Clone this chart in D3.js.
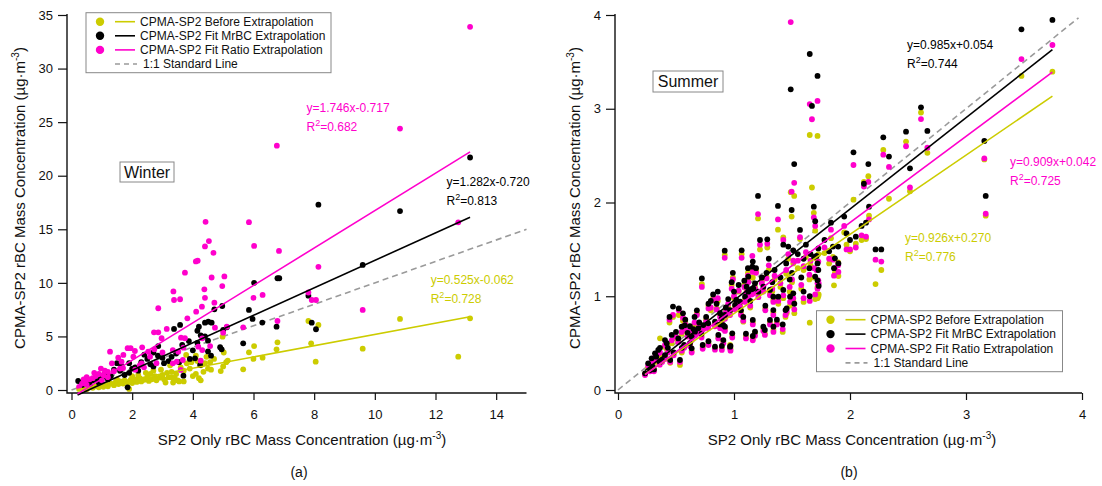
<!DOCTYPE html>
<html>
<head>
<meta charset="utf-8">
<script src="https://cdn.jsdelivr.net/npm/d3@7"></script>
<style>
  body { margin: 0; background: #fff; }
  svg { display: block; }
  text { font-family: "Liberation Sans", Arial, sans-serif; }
</style>
</head>
<body>
<svg id="chart" width="1102" height="486"></svg>
<script>
// ---------- Winter: [SP2-only rBC, CPMA-SP2 rBC] pairs (µg·m-3) ----------
const winterBefore = [
  [0.25,0.1],[0.35,0.15],[0.45,0.2],[0.5,0.08],[0.6,0.3],[0.7,0.2],[0.8,0.35],[0.9,0.25],[1.0,0.45],
  [1.05,0.3],[1.15,0.5],[1.2,0.35],[1.3,0.6],[1.4,0.45],[1.45,0.7],[1.5,1.0],[1.55,0.55],[1.6,0.8],
  [1.7,0.6],[1.75,0.9],[1.85,0.7],[1.9,0.1],[1.95,0.95],[2.0,0.65],[2.0,1.3],[2.1,1.0],[2.15,0.75],
  [2.25,1.1],[2.3,0.8],[2.4,0.95],[2.5,1.2],[2.55,0.85],[2.6,1.5],[2.65,1.0],[2.75,1.3],[2.8,0.9],
  [2.9,1.15],[3.0,1.4],[3.05,1.0],[3.1,0.7],[3.15,1.6],[3.2,1.2],[3.3,1.7],[3.3,1.2],[3.4,1.1],
  [3.5,0.9],[3.55,0.8],[3.6,2.1],[3.7,1.8],[3.7,0.8],[3.78,3.27],[3.8,2.49],[4.1,3.2],[4.15,2.7],
  [4.1,1.5],[4.2,1.1],[4.26,0.9],[4.27,2.3],[4.35,1.7],[4.5,2.0],[4.57,2.6],[4.92,1.77],[4.98,4.98],
  [5.02,3.5],[5.1,2.6],[5.15,2.75],[5.66,1.93],[5.85,3.52],[6.0,2.9],[6.02,4.1],[6.3,3.02],[6.76,3.8],
  [6.79,4.45],[7.81,6.44],[7.9,4.36],[8.05,2.64],[8.14,6.07],[9.6,3.86],[10.83,6.63],[12.75,3.11],[13.14,6.69],
  [2.2,1.4],[2.45,1.6],[2.7,1.8],[2.95,1.9],[3.25,2.3],[3.45,1.5],[3.9,2.0],[4.0,1.3],[4.4,2.5],
  [4.6,1.9],[4.7,2.9],[5.0,2.2],[3.35,0.7],[3.95,2.6],[4.45,3.1]
];
const winterMrBC = [
  [0.22,0.84],[0.35,0.4],[0.45,0.7],[0.55,0.6],[0.6,0.5],[0.7,0.9],[0.85,1.0],[0.9,0.7],[1.0,1.1],
  [1.1,1.5],[1.2,1.0],[1.3,1.3],[1.4,1.9],[1.5,2.5],[1.6,1.8],[1.65,2.2],[1.75,1.4],[1.85,0.25],
  [1.9,1.6],[1.9,2.5],[2.0,2.0],[2.1,2.1],[2.2,1.8],[2.3,2.6],[2.4,3.3],[2.5,2.9],[2.6,2.4],[2.7,3.5],
  [2.7,2.2],[2.85,3.2],[2.86,4.1],[3.0,3.0],[3.05,2.5],[3.2,2.7],[3.3,3.1],[3.38,5.7],[3.45,3.4],
  [3.55,2.6],[3.58,6.07],[3.65,4.2],[3.69,1.34],[3.87,4.57],[3.9,2.9],[4.0,3.7],[4.07,2.96],[4.15,5.53],
  [4.15,4.4],[4.2,5.91],[4.24,2.33],[4.26,5.1],[4.35,4.95],[4.4,6.28],[4.4,5.0],[4.5,4.6],[4.5,3.6],
  [4.51,6.38],[4.6,3.2],[4.62,6.28],[4.71,7.53],[4.9,3.99],[4.95,3.8],[4.97,7.84],[5.0,5.6],[5.12,5.85],
  [5.66,4.36],[5.85,7.47],[5.97,6.63],[6.02,10.0],[6.29,6.29],[6.76,5.91],[6.79,10.43],[6.85,10.43],
  [7.81,8.8],[7.92,6.28],[8.06,5.67],[8.14,17.3],[9.6,11.67],[10.83,16.7],[13.14,21.7]
];
const winterRatio = [
  [0.25,0.3],[0.35,0.6],[0.4,1.0],[0.45,0.8],[0.5,0.5],[0.5,1.2],[0.6,1.0],[0.7,1.1],[0.75,1.6],
  [0.8,1.3],[0.9,1.5],[0.97,2.0],[1.0,0.9],[1.05,1.4],[1.1,1.8],[1.2,1.7],[1.2,1.2],[1.27,3.58],
  [1.33,2.49],[1.4,1.75],[1.54,3.02],[1.6,2.0],[1.65,2.64],[1.7,2.05],[1.71,3.27],[1.85,3.9],[1.95,3.9],
  [2.04,3.11],[2.09,3.64],[2.1,1.9],[2.25,2.3],[2.31,2.49],[2.33,3.98],[2.39,2.12],[2.53,3.58],[2.59,3.11],
  [2.72,5.38],[2.73,3.8],[2.8,2.5],[2.86,5.38],[2.86,7.63],[2.97,4.83],[3.0,3.5],[3.14,5.7],[3.34,3.73],
  [3.34,2.49],[3.36,9.2],[3.38,8.4],[3.47,2.64],[3.52,3.58],[3.58,8.47],[3.6,1.87],[3.61,4.88],[3.67,2.8],
  [3.69,3.95],[3.74,4.83],[3.74,10.95],[3.82,6.69],[4.11,7.31],[4.1,12.0],[4.16,12.07],[4.18,4.04],
  [4.26,2.74],[4.3,7.78],[4.31,4.82],[4.31,3.73],[4.38,9.4],[4.4,8.6],[4.4,13.4],[4.42,15.7],[4.53,13.9],
  [4.57,4.1],[4.62,10.5],[4.68,12.8],[4.71,8.15],[4.73,5.82],[4.97,9.7],[5.0,5.35],[5.04,10.6],[5.12,5.91],
  [5.66,5.85],[5.85,15.66],[6.0,8.6],[6.02,13.45],[6.3,8.87],[6.77,22.8],[6.79,6.44],[6.84,12.98],
  [7.81,9.1],[7.92,8.4],[8.06,8.4],[8.14,11.5],[9.6,7.47],[10.83,24.4],[12.75,15.65],[13.14,33.9]
];

// ---------- Summer: one entry per sample ----------
const summerX = [
  3.745,3.478,3.158,3.17,2.612,2.667,2.483,2.287,2.03,2.158,2.12,2.336,2.517,2.164,2.138,1.97,2.05,2.22,2.27,
  1.489,1.519,1.497,1.653,1.672,1.72,1.207,1.379,1.688,1.70,1.836,1.853,1.898,1.727,1.711,1.727,1.72,1.73,
  1.653,1.862,1.9,1.87,1.569,1.425,1.287,1.224,1.066,0.92,1.158,1.162,1.468,1.511,1.69,1.72,1.70,0.723,
  0.474,0.524,0.444,0.362,0.233,0.26,0.29,0.33,0.38,0.405,0.43,0.463,0.405,0.347,0.319,0.276,0.534,0.549,
  0.635,0.73,0.78,0.836,0.908,0.966,0.865,0.922,1.181,1.08,0.635,0.664,0.692,0.735,0.778,0.836,0.894,0.922,
  0.966,1.009,1.052,1.095,1.123,1.166,1.089,1.123,1.109,1.152,1.181,1.21,1.253,1.31,1.339,1.382,1.425,1.483,
  1.511,1.339,1.454,1.31,1.253,0.908,1.34,1.266,1.444,1.162,1.103,0.985,0.97,0.895,1.162,0.575,0.60,0.65,
  0.56,1.0,1.04,0.85,0.95,1.02,0.88,0.76,0.70,0.62,0.52,0.57,0.48,0.36,0.30,1.24,1.28,1.35,1.40,1.45,1.50,
  1.55,1.60,1.62,1.58,1.65,1.78,1.82,1.95,2.00,2.10,1.30,1.12,0.98,0.82,0.78,0.68,0.58,
  0.42,0.50,0.55,0.66,0.72,0.80,0.86,0.93,0.99,1.06,1.14,1.19,1.27,1.33,1.37,1.42,1.48,1.52,1.60,1.66,
  0.31,0.45,0.62,0.88
];
const summerMrBC = [
  3.947,3.847,2.656,2.07,3.015,2.763,2.755,2.695,2.535,2.41,2.20,2.49,2.365,1.955,1.785,1.67,1.635,1.50,1.50,
  3.207,2.41,1.92,3.584,3.03,3.35,2.07,1.963,1.955,1.80,1.785,1.53,1.53,1.51,1.43,1.28,1.17,1.11,
  1.0,1.3,1.35,1.405,1.707,1.55,1.607,1.60,1.49,1.486,1.315,1.37,1.53,1.49,1.42,1.35,1.21,1.19,
  0.89,0.87,0.78,0.45,0.178,0.285,0.338,0.355,0.32,0.373,0.45,0.587,0.533,0.427,0.391,0.213,0.32,0.675,
  0.445,0.48,0.52,0.462,0.533,0.462,0.587,0.675,0.622,0.78,0.569,0.622,0.658,0.693,0.711,0.729,0.765,0.80,
  0.853,0.907,0.942,0.995,1.049,1.084,1.166,1.209,1.102,1.074,1.138,1.049,1.102,1.067,0.995,0.995,1.067,0.995,
  1.031,0.853,0.87,0.747,0.675,0.693,0.675,0.64,0.853,0.576,0.60,0.605,0.47,0.47,0.747,0.69,0.61,0.65,
  0.818,1.05,1.12,0.92,0.97,0.96,0.82,0.78,0.72,0.68,0.55,0.48,0.40,0.30,0.25,1.20,1.25,1.28,1.20,1.35,1.25,
  1.45,1.40,1.55,1.20,1.30,1.60,1.48,1.85,1.60,1.75,1.40,1.30,1.15,1.02,0.92,0.85,0.75,
  0.50,0.62,0.45,0.78,0.60,0.95,1.05,0.88,1.25,0.85,0.95,1.30,0.90,1.15,0.75,0.70,1.18,0.92,1.05,1.45,
  0.22,0.32,0.50,0.70
];
const summerRatio = [
  3.68,3.53,2.47,1.88,2.89,2.585,2.60,2.51,2.40,2.22,2.17,2.38,2.16,1.82,1.635,1.50,1.52,1.39,1.37,
  3.925,2.21,2.115,3.05,2.888,3.083,1.877,1.82,1.84,1.75,1.71,1.39,1.33,1.37,1.28,1.17,1.08,1.14,
  0.95,1.22,1.26,1.30,1.63,1.60,1.56,1.55,1.41,1.41,1.43,1.26,1.45,1.38,1.30,1.14,1.02,1.10,
  0.80,0.85,0.75,0.40,0.16,0.26,0.30,0.32,0.30,0.33,0.40,0.53,0.48,0.39,0.35,0.20,0.30,0.62,
  0.40,0.44,0.48,0.43,0.50,0.445,0.55,0.63,0.58,0.74,0.53,0.58,0.61,0.65,0.66,0.68,0.72,0.76,
  0.80,0.86,0.89,0.94,0.99,1.03,1.10,1.15,1.04,1.02,1.08,0.99,1.05,1.01,0.94,0.95,1.01,0.94,
  0.98,0.80,0.84,0.70,0.63,0.65,0.62,0.587,0.80,0.53,0.55,0.56,0.42,0.427,0.70,0.65,0.57,0.60,
  0.77,1.0,1.06,0.86,0.92,0.91,0.78,0.73,0.68,0.64,0.51,0.45,0.37,0.27,0.23,1.14,1.19,1.22,1.14,1.28,1.18,
  1.38,1.32,1.47,1.12,1.23,1.52,1.40,1.75,1.50,1.65,1.33,1.22,1.08,0.96,0.87,0.80,0.70,
  0.46,0.57,0.42,0.72,0.56,0.88,0.98,0.83,1.18,0.80,0.90,1.25,0.85,1.08,0.70,0.65,1.10,0.86,0.98,1.38,
  0.20,0.30,0.47,0.66
];
const summerBefore = [
  3.395,3.35,2.46,1.86,2.96,2.53,2.65,2.56,2.03,2.28,2.22,2.04,2.12,1.86,1.61,1.55,1.56,1.13,1.28,
  2.11,2.07,1.85,2.72,2.16,2.71,1.83,1.71,1.89,1.70,1.62,1.42,1.36,1.45,1.40,1.0,0.98,1.02,
  0.718,1.117,1.216,1.25,1.61,1.628,1.52,1.50,1.45,1.44,1.30,1.20,1.40,1.35,1.20,1.10,0.97,1.13,
  0.78,0.80,0.72,0.551,0.17,0.24,0.29,0.30,0.35,0.36,0.42,0.50,0.46,0.36,0.33,0.25,0.267,0.60,
  0.42,0.46,0.50,0.45,0.52,0.48,0.56,0.65,0.61,0.729,0.55,0.60,0.63,0.67,0.69,0.70,0.74,0.78,
  0.83,0.88,0.91,0.96,1.01,1.05,1.12,1.17,1.06,1.04,1.10,1.02,1.07,1.03,0.96,0.92,0.98,0.90,
  0.95,0.83,0.818,0.72,0.66,0.67,0.64,0.60,0.78,0.55,0.57,0.58,0.44,0.45,0.72,0.63,0.58,0.62,
  0.74,0.98,1.05,0.87,0.90,0.93,0.80,0.75,0.70,0.62,0.52,0.47,0.39,0.29,0.24,1.16,1.21,1.18,1.10,1.24,1.15,
  1.30,1.28,1.42,1.08,1.18,1.46,1.35,1.68,1.48,1.60,1.28,1.25,1.12,0.98,0.90,0.82,0.72,
  0.44,0.55,0.40,0.70,0.58,0.85,0.95,0.85,1.20,0.82,0.88,1.27,0.87,1.05,0.72,0.62,1.05,0.82,0.94,1.33,
  0.21,0.29,0.48,0.68
];

// Regression lines as plotted: [slope, intercept]
const winterLineCoef = [[0.525,-0.062],[1.282,-0.720],[1.746,-0.717]];
const winterLineSpan = [0.2, 13.14];
const summerLineCoef = [[0.845,-0.03],[0.975,-0.02],[0.919,-0.052]];
const summerLineSpan = [0.233, 3.745];

// Annotation texts
const winterEqLabels = ["y=0.525x-0.062","y=1.282x-0.720","y=1.746x-0.717"];
const winterR2Labels = ["0.728","0.813","0.682"];
const summerEqLabels = ["y=0.926x+0.270","y=0.985x+0.054","y=0.909x+0.042"];
const summerR2Labels = ["0.776","0.744","0.725"];

const legendLabels = ["CPMA-SP2 Before Extrapolation","CPMA-SP2 Fit MrBC Extrapolation",
                      "CPMA-SP2 Fit Ratio Extrapolation","1:1 Standard Line"];
const winterXTicks = [0,2,4,6,8,10,12,14];
const winterYTicks = [0,5,10,15,20,25,30,35];
const summerTicks = [0,1,2,3,4];

// series order: Before, MrBC, Ratio
const colors = ["#cccc00","#000000","#ff00cc"];
const dashColor = "#9a9a9a";

const svg = d3.select("#chart");

function addUnitTitle(sel) {
  sel.append("tspan").text("(µg·m");
  sel.append("tspan").attr("font-size", 10).attr("dy", -6).text("-3");
  sel.append("tspan").attr("dy", 6).text(")");
}

function addR2(sel, val) {
  sel.append("tspan").text("R");
  sel.append("tspan").attr("font-size", 9).attr("dy", -5).text("2");
  sel.append("tspan").attr("dy", 5).text("=" + val);
}

function drawPanel(p) {
  const g = svg.append("g");
  const x = d3.scaleLinear().domain(p.xDomain).range(p.xRange);
  const y = d3.scaleLinear().domain(p.yDomain).range(p.yRange);

  // axes
  const ya = g.append("g").attr("transform", `translate(${p.yAxisX},0)`)
    .call(d3.axisLeft(y).tickValues(p.yTicks).tickSize(9).tickPadding(5).tickFormat(d3.format("d")));
  const xa = g.append("g").attr("transform", `translate(0,${p.xAxisY})`)
    .call(d3.axisBottom(x).tickValues(p.xTicks).tickSize(7).tickPadding(10).tickFormat(d3.format("d")));
  [ya, xa].forEach(a => {
    a.select(".domain").remove();
    a.selectAll(".tick line").attr("stroke", "#111").attr("stroke-width", 1.2);
    a.selectAll(".tick text").attr("font-size", 13).attr("fill", "#111")
      .attr("font-family", '"Liberation Sans", Arial, sans-serif');
  });
  g.append("path")
    .attr("d", `M${p.yAxisX},${p.yRange[1] - 1}V${p.xAxisY}H${p.xRange[1]}`)
    .attr("fill", "none").attr("stroke", "#111").attr("stroke-width", 1.4);

  // axis titles
  const xt = g.append("text").attr("x", p.xTitleX).attr("y", 444.5)
    .attr("text-anchor", "middle").attr("font-size", 15).attr("fill", "#111");
  xt.append("tspan").text("SP2 Only rBC Mass Concentration ");
  addUnitTitle(xt);
  const yt = g.append("text")
    .attr("transform", `translate(${p.yTitleX},198) rotate(-90)`)
    .attr("text-anchor", "middle").attr("font-size", 15).attr("fill", "#111");
  yt.append("tspan").text("CPMA-SP2 rBC Mass Concentration ");
  addUnitTitle(yt);
  g.append("text").attr("x", p.panelTagX).attr("y", 477).attr("text-anchor", "middle")
    .attr("font-size", 14).attr("fill", "#111").text(p.panelTag);

  // 1:1 line
  g.append("line")
    .attr("x1", x(0)).attr("y1", y(0)).attr("x2", x(p.oneToOneEnd)).attr("y2", y(p.oneToOneEnd))
    .attr("stroke", dashColor).attr("stroke-width", 1.6).attr("stroke-dasharray", "6,4");

  // points
  p.drawOrder.forEach(i => {
    g.append("g").selectAll("circle").data(p.series[i]).join("circle")
      .attr("cx", d => x(d[0])).attr("cy", d => y(d[1])).attr("r", 2.9)
      .attr("fill", colors[i]);
  });

  // fit lines
  p.lineCoef.forEach((c, i) => {
    g.append("line")
      .attr("x1", x(p.lineSpan[0])).attr("y1", y(c[0] * p.lineSpan[0] + c[1]))
      .attr("x2", x(p.lineSpan[1])).attr("y2", y(c[0] * p.lineSpan[1] + c[1]))
      .attr("stroke", colors[i]).attr("stroke-width", 1.6);
  });

  // equation labels
  p.eqPos.forEach((pos, i) => {
    g.append("text").attr("x", pos[0]).attr("y", pos[1]).attr("font-size", 12)
      .attr("fill", colors[i]).text(p.eqLabels[i]);
    addR2(g.append("text").attr("x", pos[0]).attr("y", pos[1] + 19).attr("font-size", 12)
      .attr("fill", colors[i]), p.r2Labels[i]);
  });

  // season tag
  const tb = p.tagBox;
  g.append("rect").attr("x", tb[0]).attr("y", tb[1]).attr("width", tb[2]).attr("height", tb[3])
    .attr("fill", "#fff").attr("stroke", "#888").attr("stroke-width", 1);
  g.append("text").attr("x", tb[0] + tb[2] / 2).attr("y", tb[1] + tb[3] / 2 + 5.5)
    .attr("text-anchor", "middle").attr("font-size", 16).attr("fill", "#111").text(p.tag);

  // legend
  const lg = p.legendBox;
  const L = g.append("g");
  L.append("rect").attr("x", lg[0]).attr("y", lg[1]).attr("width", lg[2]).attr("height", lg[3])
    .attr("fill", "#fff").attr("stroke", "#888").attr("stroke-width", 1);
  legendLabels.forEach((lab, i) => {
    const cy = lg[1] + 9 + i * p.legendStep;
    if (i < 3) {
      L.append("circle").attr("cx", lg[0] + 14).attr("cy", cy).attr("r", 4.2).attr("fill", colors[i]);
      L.append("line").attr("x1", lg[0] + 29).attr("x2", lg[0] + 49).attr("y1", cy).attr("y2", cy)
        .attr("stroke", colors[i]).attr("stroke-width", 1.6);
    } else {
      L.append("line").attr("x1", lg[0] + 29).attr("x2", lg[0] + 51).attr("y1", cy).attr("y2", cy)
        .attr("stroke", dashColor).attr("stroke-width", 1.6).attr("stroke-dasharray", "5,4");
    }
    L.append("text").attr("x", lg[0] + (i < 3 ? 54 : 57)).attr("y", cy + 4.3)
      .attr("font-size", 12).attr("fill", "#111").text(lab);
  });
}

drawPanel({
  xDomain: [0, 15], xRange: [71.5, 526.5],
  yDomain: [0, 35], yRange: [390, 15],
  yAxisX: 67, xAxisY: 393,
  xTicks: winterXTicks, yTicks: winterYTicks,
  xTitleX: 302, yTitleX: 25, panelTag: "(a)", panelTagX: 299,
  oneToOneEnd: 15,
  series: [winterBefore, winterMrBC, winterRatio], drawOrder: [0, 1, 2],
  lineCoef: winterLineCoef, lineSpan: winterLineSpan,
  eqLabels: winterEqLabels, r2Labels: winterR2Labels,
  eqPos: [[430.7, 283.5], [446.5, 186], [306.5, 112]],
  tag: "Winter", tagBox: [120, 162, 54, 20],
  legendBox: [86, 12.7, 245, 60], legendStep: 14.1
});

const summerPairs = [summerBefore, summerMrBC, summerRatio]
  .map(ys => summerX.map((xv, i) => [xv, ys[i]]));

drawPanel({
  xDomain: [0, 4], xRange: [618, 1082],
  yDomain: [0, 4], yRange: [390, 15],
  yAxisX: 615, xAxisY: 393,
  xTicks: summerTicks, yTicks: summerTicks,
  xTitleX: 852, yTitleX: 580, panelTag: "(b)", panelTagX: 849,
  oneToOneEnd: 3.97,
  series: summerPairs, drawOrder: [0, 2, 1],
  lineCoef: summerLineCoef, lineSpan: summerLineSpan,
  eqLabels: summerEqLabels, r2Labels: summerR2Labels,
  eqPos: [[905, 242], [907, 48.5], [1010, 166]],
  tag: "Summer", tagBox: [653, 71, 70, 21],
  legendBox: [816.5, 310.7, 246, 61], legendStep: 14.4
});
</script>
</body>
</html>
